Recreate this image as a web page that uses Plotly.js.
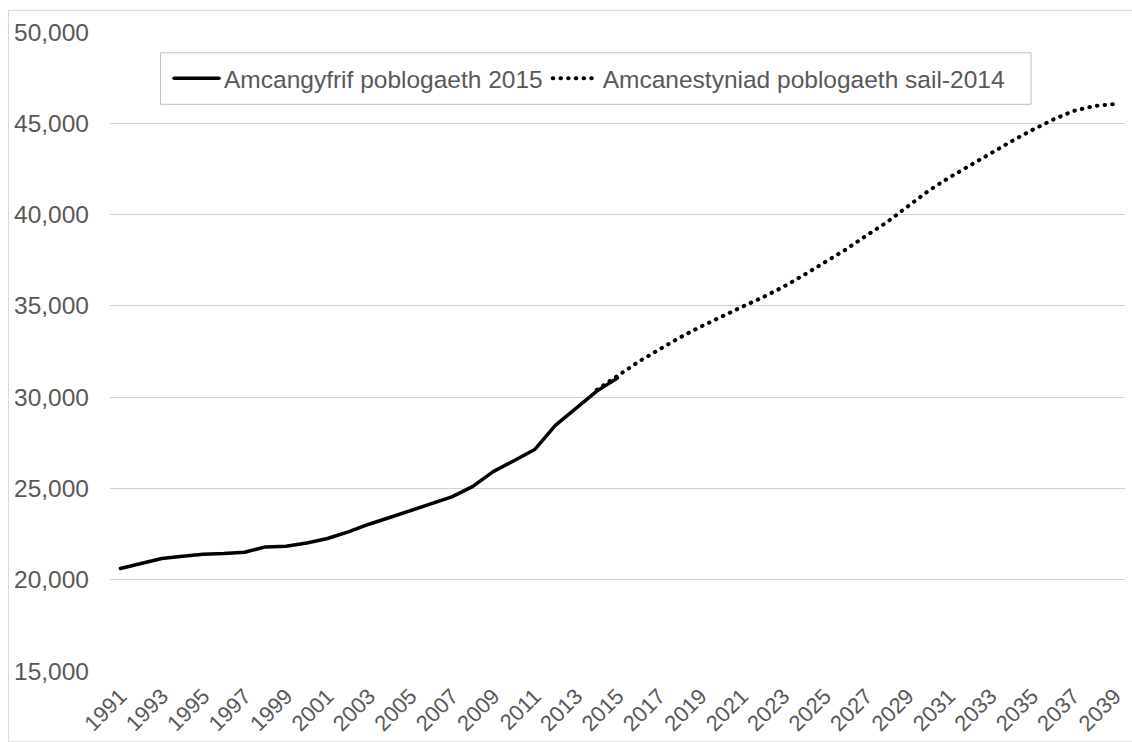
<!DOCTYPE html>
<html>
<head>
<meta charset="utf-8">
<script src="https://cdn.plot.ly/plotly-3.0.1.min.js"></script>
<style>
  html, body { margin: 0; padding: 0; background: #ffffff; }
  #chart { width: 1132px; height: 742px; }
  #chart .scatterlayer .js-line,
  #chart .legendlines path { stroke-linecap: round !important; stroke-linejoin: round !important; }
</style>
</head>
<body>
<div id="chart"></div>
<script>
// Data
const estimateYears = [1991,1992,1993,1994,1995,1996,1997,1998,1999,2000,2001,2002,2003,2004,2005,2006,2007,2008,2009,2010,2011,2012,2013,2014,2015];
const estimateValues = [20613,20887,21161,21287,21396,21435,21506,21797,21835,22015,22256,22618,23040,23406,23768,24134,24534,25100,25920,26520,27130,28450,29400,30330,31050];

const projectionYears = [2014,2015,2016,2017,2018,2019,2020,2021,2022,2023,2024,2025,2026,2027,2028,2029,2030,2031,2032,2033,2034,2035,2036,2037,2038,2039];
const projectionValues = [30400,31150,31930,32600,33260,33850,34410,34940,35460,36040,36690,37350,38070,38840,39575,40440,41290,42020,42690,43360,44000,44620,45190,45670,45945,46055];

const estimateName = "Amcangyfrif poblogaeth 2015";
const projectionName = "Amcanestyniad poblogaeth sail-2014";

const tickYears = [];
for (let y = 1991; y <= 2039; y += 2) tickYears.push(y);
const tickLabels = tickYears.map(String);

const yTicks = [15000,20000,25000,30000,35000,40000,45000,50000];

const FONT = "Liberation Sans, Arial, sans-serif";
const TXT = "#595959";
const FS = 24.5;

const traces = [
  {
    x: estimateYears, y: estimateValues, name: estimateName,
    type: "scatter", mode: "lines",
    line: { color: "#000000", width: 3.5 }
  },
  {
    x: projectionYears, y: projectionValues, name: projectionName,
    type: "scatter", mode: "lines",
    line: { color: "#000000", width: 4, dash: "0.5px,7.2px" }
  }
];

const L = 110, R = 7, T = 31.7, B = 71.3, W = 1132, H = 742;
const pw = W - L - R, ph = H - T - B;
const px = v => (v - L) / pw;
const py = v => (H - B - v) / ph;

const layout = {
  width: W, height: H,
  margin: { l: L, r: R, t: T, b: B, pad: 0 },
  paper_bgcolor: "#ffffff",
  plot_bgcolor: "#ffffff",
  font: { family: FONT, size: FS, color: TXT },
  showlegend: true,
  legend: {
    orientation: "h",
    x: px(169), y: py(78), xanchor: "left", yanchor: "middle",
    borderwidth: 0,
    bgcolor: "rgba(0,0,0,0)",
    font: { family: FONT, size: FS, color: TXT },
    itemwidth: 45,
    tracegroupgap: 0
  },
  xaxis: {
    range: [1990.5, 2039.5],
    tickmode: "array", tickvals: tickYears, ticktext: tickLabels,
    tickangle: -45,
    showgrid: false, zeroline: false, showline: false,
    ticks: "", ticklabelstandoff: 7,
    tickfont: { family: FONT, size: 22, color: TXT },
    automargin: false,
    fixedrange: true
  },
  yaxis: {
    range: [15000, 50000],
    tickmode: "array", tickvals: yTicks,
    tickformat: ",d",
    showgrid: true, gridcolor: "#d0d0d0", gridwidth: 1,
    zeroline: false, showline: false,
    ticks: "", ticklabelstandoff: 20,
    tickfont: { family: FONT, size: FS, color: TXT },
    fixedrange: true
  },
  shapes: [
    {
      type: "rect", xref: "paper", yref: "paper",
      x0: px(8.5), x1: px(1140), y0: py(741.5), y1: py(10),
      line: { color: "#d9d9d9", width: 1 }, fillcolor: "rgba(0,0,0,0)",
      layer: "below"
    },
    {
      type: "rect", xref: "paper", yref: "paper",
      x0: px(160.5), x1: px(1031), y0: py(104), y1: py(52.5),
      line: { color: "#bfbfbf", width: 1 }, fillcolor: "#ffffff",
      layer: "below"
    }
  ]
};

Plotly.newPlot("chart", traces, layout, { displayModeBar: false, staticPlot: true });
</script>
</body>
</html>
